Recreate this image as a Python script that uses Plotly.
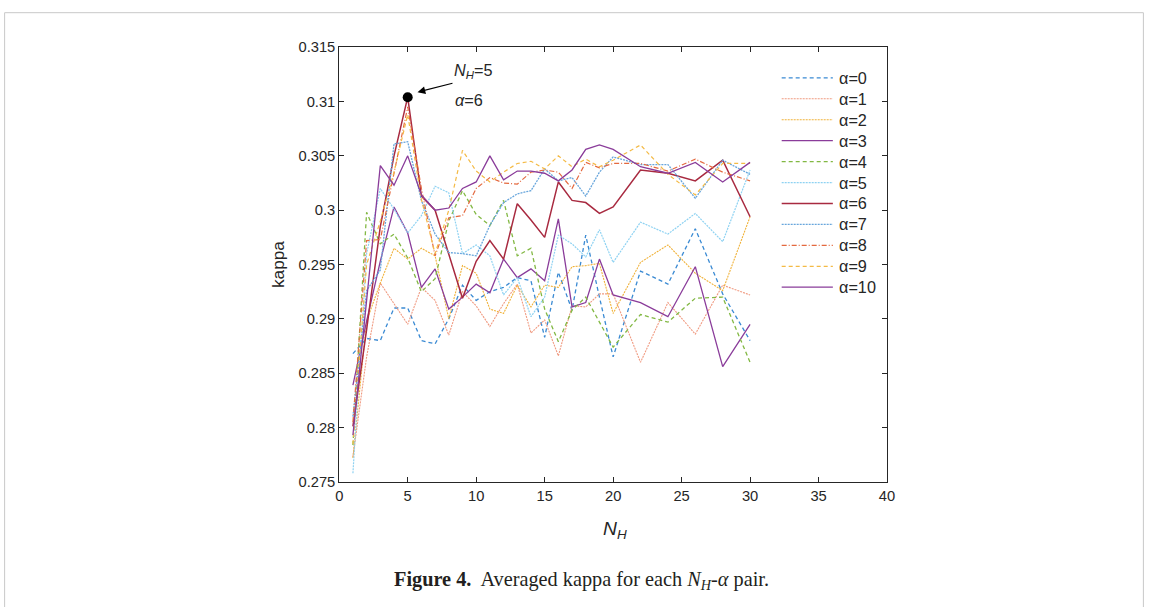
import plotly.graph_objects as go

# ---------------- data ----------------
n_h = list(range(1, 21)) + [22, 24, 26, 28, 30]

kappa_a0 = [0.2868, 0.2882, 0.2880, 0.2910, 0.2910, 0.2880, 0.2877, 0.2900, 0.2931, 0.2917, 0.2925, 0.2929, 0.2938, 0.2935, 0.2883, 0.2943, 0.2908, 0.2977, 0.2920, 0.2865, 0.2944, 0.2932, 0.2983, 0.2923, 0.2880]
kappa_a1 = [0.2773, 0.2865, 0.2933, 0.2914, 0.2895, 0.2929, 0.2917, 0.2885, 0.2925, 0.2912, 0.2893, 0.2914, 0.2932, 0.2887, 0.2899, 0.2866, 0.2912, 0.2911, 0.2923, 0.2923, 0.2860, 0.2915, 0.2886, 0.2931, 0.2922]
kappa_a2 = [0.2772, 0.2898, 0.2933, 0.2965, 0.2955, 0.2965, 0.2958, 0.2900, 0.2949, 0.2942, 0.2909, 0.2905, 0.2931, 0.2911, 0.2931, 0.2929, 0.2948, 0.2949, 0.2951, 0.2905, 0.2952, 0.2968, 0.2942, 0.2926, 0.2994]
kappa_a3 = [0.2839, 0.2898, 0.2953, 0.3003, 0.2979, 0.2929, 0.2946, 0.2909, 0.2920, 0.2932, 0.2924, 0.2955, 0.2938, 0.2946, 0.2935, 0.2992, 0.2911, 0.2915, 0.2955, 0.2922, 0.2915, 0.2902, 0.2948, 0.2856, 0.2895]
kappa_a4 = [0.2784, 0.2998, 0.2969, 0.2978, 0.2956, 0.2925, 0.2937, 0.2990, 0.3018, 0.2996, 0.2986, 0.3009, 0.2958, 0.2965, 0.2909, 0.2879, 0.2908, 0.2920, 0.2897, 0.2874, 0.2904, 0.2897, 0.2919, 0.2920, 0.2860]
kappa_a5 = [0.2758, 0.2960, 0.3020, 0.3001, 0.2979, 0.2995, 0.3022, 0.3016, 0.2960, 0.2968, 0.2958, 0.2922, 0.2938, 0.2902, 0.2920, 0.2977, 0.2969, 0.2957, 0.2982, 0.2952, 0.2989, 0.2978, 0.2997, 0.2971, 0.3037]
kappa_a6 = [0.2801, 0.2890, 0.2985, 0.3050, 0.3104, 0.3013, 0.3000, 0.2960, 0.2919, 0.2953, 0.2972, 0.2955, 0.3006, 0.2991, 0.2975, 0.3026, 0.3009, 0.3007, 0.2997, 0.3003, 0.3037, 0.3034, 0.3027, 0.3046, 0.2994]
kappa_a7 = [0.2810, 0.2926, 0.2945, 0.3061, 0.3063, 0.3009, 0.2978, 0.2961, 0.2960, 0.2958, 0.2986, 0.3007, 0.3015, 0.3018, 0.3038, 0.3027, 0.3030, 0.3013, 0.3035, 0.3049, 0.3042, 0.3042, 0.3011, 0.3046, 0.3033]
kappa_a8 = [0.2805, 0.2972, 0.2973, 0.3035, 0.3095, 0.3020, 0.2958, 0.2993, 0.2995, 0.3020, 0.3030, 0.3025, 0.3024, 0.3035, 0.3037, 0.3035, 0.3020, 0.3044, 0.3039, 0.3043, 0.3043, 0.3036, 0.3047, 0.3035, 0.3027]
kappa_a9 = [0.2785, 0.2950, 0.2990, 0.3035, 0.3088, 0.3010, 0.2960, 0.3000, 0.3055, 0.3036, 0.3026, 0.3035, 0.3043, 0.3045, 0.3038, 0.3050, 0.3040, 0.3047, 0.3040, 0.3046, 0.3060, 0.3033, 0.3014, 0.3043, 0.3043]
kappa_a10 = [0.2793, 0.2920, 0.3041, 0.3023, 0.3050, 0.3014, 0.3000, 0.3002, 0.3020, 0.3026, 0.3050, 0.3028, 0.3036, 0.3036, 0.3034, 0.3027, 0.3037, 0.3056, 0.3060, 0.3056, 0.3040, 0.3034, 0.3044, 0.3026, 0.3044]

series_names = ["α=0", "α=1", "α=2", "α=3", "α=4", "α=5", "α=6", "α=7", "α=8", "α=9", "α=10"]
series_values = [kappa_a0, kappa_a1, kappa_a2, kappa_a3, kappa_a4, kappa_a5,
                 kappa_a6, kappa_a7, kappa_a8, kappa_a9, kappa_a10]

best_nh = [5]
best_kappa = [0.3104]

x_ticks = [0, 5, 10, 15, 20, 25, 30, 35, 40]
y_ticks = [0.275, 0.28, 0.285, 0.29, 0.295, 0.3, 0.305, 0.31, 0.315]
y_tick_text = ["0.275", "0.28", "0.285", "0.29", "0.295", "0.3", "0.305", "0.31", "0.315"]

# ---------------- styles ----------------
colors = ["#3A8AD3", "#F09A80", "#F0B23A", "#8A3C9A", "#82B843", "#8ED2F2",
          "#A82A40", "#68A6DC", "#E4693F", "#F4BA45", "#8A3C9A"]
dashes = ["4px,3px", "2px,1px", "2px,1px", "solid", "4px,3px", "2px,1px",
          "solid", "2px,1px", "5px,2px,1px,2px", "4px,3px", "solid"]
widths = [1.3, 1.1, 1.1, 1.3, 1.3, 1.2, 1.5, 1.3, 1.2, 1.2, 1.3]

FW, FH = 1152, 607
# the page (8px body margin) is photographed scaled into the window:
# map wanted window pixels (X, Y) to figure pixels
SX, SY, OFF = (FW + 16) / FW, (FH + 16) / FH, 8
def fx(X):
    return X * SX - OFF
def fy(Y):
    return Y * SY - OFF
def px(X):
    return fx(X) / FW
def py(Y):
    return 1 - fy(Y) / FH

FONT = "Liberation Sans, Arial, Helvetica, sans-serif"
AX = "#262626"
K = 1.015  # font compensation for the photo scaling

fig = go.Figure()
for name, vals, c, d, w in zip(series_names, series_values, colors, dashes, widths):
    fig.add_trace(go.Scatter(x=n_h, y=vals, mode="lines", name=name,
                             line=dict(color=c, dash=d, width=w)))

fig.add_trace(go.Scatter(x=best_nh, y=best_kappa, mode="markers", showlegend=False,
                         marker=dict(color="black", size=10)))

fig.update_layout(
    width=FW, height=FH,
    margin=dict(l=0, r=0, t=0, b=0),
    paper_bgcolor="white", plot_bgcolor="white",
    font=dict(family=FONT, size=14, color=AX),
    showlegend=False,
    xaxis=dict(domain=[px(342), px(888)], range=[0, 40], tickvals=x_ticks,
               showline=True, linecolor=AX, linewidth=1, mirror="allticks",
               ticks="inside", ticklen=5, tickcolor=AX, showgrid=False, zeroline=False,
               tickfont=dict(family=FONT, size=14.5 * K, color=AX)),
    yaxis=dict(domain=[py(482), py(47)], range=[0.275, 0.315], tickvals=y_ticks,
               ticktext=y_tick_text,
               showline=True, linecolor=AX, linewidth=1, mirror="allticks",
               ticks="inside", ticklen=5, tickcolor=AX, showgrid=False, zeroline=False,
               tickfont=dict(family=FONT, size=14.5 * K, color=AX)),
)

annos = [
    dict(text="kappa", x=px(281), y=py(265), xref="paper", yref="paper",
         xanchor="center", yanchor="middle",
         textangle=-90, showarrow=False, font=dict(family=FONT, size=17 * K, color=AX)),
    dict(text="<i>N</i><sub><i>H</i></sub>", x=px(617), y=py(530), xref="paper", yref="paper",
         xanchor="center", yanchor="middle",
         showarrow=False, font=dict(family=FONT, size=19 * K, color=AX)),
    dict(text="<i>N</i><sub><i>H</i></sub>=5", x=px(454), y=py(71), xref="paper", yref="paper",
         xanchor="left", yanchor="middle", showarrow=False, font=dict(family=FONT, size=16 * K, color=AX)),
    dict(text="<i>α</i>=6", x=px(455), y=py(100), xref="paper", yref="paper",
         xanchor="left", yanchor="middle", showarrow=False, font=dict(family=FONT, size=16 * K, color=AX)),
    dict(text="", x=px(420), y=py(92), xref="paper", yref="paper",
         ax=fx(456) - fx(420), ay=fy(83) - fy(92),
         showarrow=True, arrowhead=2, arrowsize=1.3, arrowwidth=1.2, arrowcolor="black"),
    dict(text="<b>Figure 4.</b>  Averaged kappa for each <i>N</i><sub><i>H</i></sub>-<i>α</i> pair.",
         x=px(583), y=py(581), xref="paper", yref="paper", showarrow=False,
         xanchor="center", yanchor="middle",
         font=dict(family="Liberation Serif, Times New Roman, serif", size=20 * K, color="#231f20")),
]

# legend drawn as line samples + labels (MATLAB-style, no box)
shapes = []
for i, (name, c, d, w) in enumerate(zip(series_names, colors, dashes, widths)):
    Y = 77.7 + 20.95 * i
    shapes.append(dict(type="line", xref="paper", yref="paper",
                       x0=px(783), x1=px(834), y0=py(Y), y1=py(Y),
                       line=dict(color=c, dash=d, width=w)))
    annos.append(dict(text=name, x=px(838), y=py(Y), xref="paper", yref="paper",
                      xanchor="left", yanchor="middle", showarrow=False,
                      font=dict(family=FONT, size=16 * K, color=AX)))

shapes.append(dict(type="rect", xref="paper", yref="paper",
                   x0=px(8.5), x1=px(1143.5), y0=-0.3, y1=py(12.5),
                   line=dict(color="#c8c8c8", width=1), fillcolor="rgba(0,0,0,0)", layer="below"))

fig.update_layout(annotations=annos, shapes=shapes)

fig.write_html("out.html")
